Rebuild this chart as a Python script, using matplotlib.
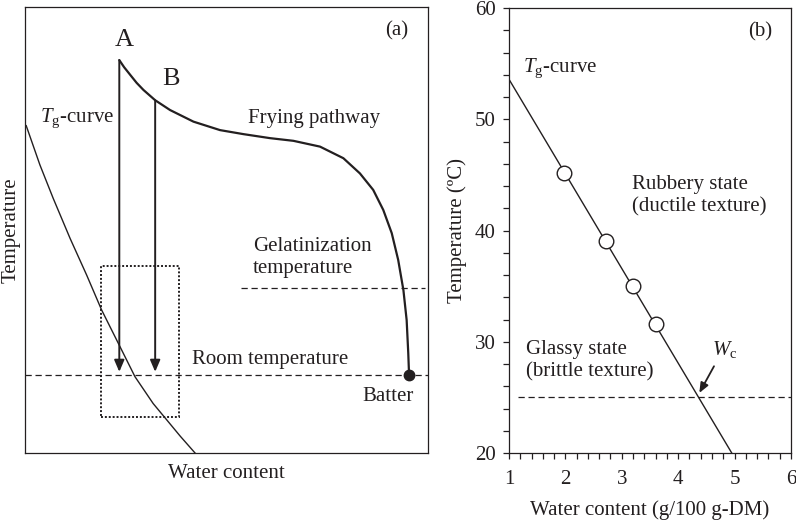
import matplotlib
matplotlib.use("Agg")
import matplotlib.pyplot as plt
from matplotlib.patches import Rectangle
from matplotlib.ticker import MultipleLocator

plt.rcParams['font.family'] = ['Liberation Serif', 'DejaVu Serif']
plt.rcParams['mathtext.fontset'] = 'custom'
plt.rcParams['mathtext.rm'] = 'Liberation Serif'
plt.rcParams['mathtext.it'] = 'Liberation Serif:italic'

INK = '#231f20'
FS = 15

# ---- panel (a): schematic, normalised units 0..100 ----
fry_x = [23.4, 24.6, 26.1, 27.7, 29.4, 32.3, 36.0, 41.8, 48.4, 54.2, 60.8, 66.6,
         73.2, 79.0, 83.1, 86.4, 88.9, 91.0, 92.6, 93.9, 94.7, 95.1, 95.3]
fry_y = [88.1, 86.5, 84.8, 83.0, 81.4, 79.1, 76.9, 74.3, 72.4, 71.5, 70.6, 70.0,
         68.7, 66.1, 62.7, 59.0, 54.5, 49.3, 43.3, 36.5, 29.8, 22.4, 17.5]
tg_a_x = [0.3, 3.7, 7.0, 11.2, 15.3, 19.0, 23.6, 27.3, 31.8, 35.2, 38.5, 42.2]
tg_a_y = [73.4, 64.6, 57.1, 48.1, 39.9, 32.1, 23.8, 17.1, 11.1, 7.4, 3.8, 0.0]
arrow_x = [23.4, 32.3]
arrow_top = [88.1, 79.1]
arrow_tip = 18.2
room_t = 17.5
gel_t = 37.0
gel_x = [53.6, 99.3]
box_x = [18.9, 38.2]
box_y = [8.1, 41.9]
batter = (95.3, 17.5)

# ---- panel (b): measured Tg ----
wc = [1.98, 2.72, 3.20, 3.60]
tg = [45.2, 39.1, 35.0, 31.6]
fit_x = [1.0, 4.95]
fit_y = [53.6, 20.0]
room_b = 25.0
room_b_x = [1.16, 6.0]

fig = plt.figure(figsize=(7.96, 5.28), dpi=100)
axa = fig.add_axes([0.0314, 0.142, 0.5063, 0.8447])
axb = fig.add_axes([0.6394, 0.142, 0.3543, 0.8428])

# panel (a)
axa.set_xlim(0, 100)
axa.set_ylim(0, 100)
axa.set_xticks([])
axa.set_yticks([])
for s in axa.spines.values():
    s.set_color(INK)
    s.set_linewidth(0.9)

axa.plot(fry_x, fry_y, color=INK, lw=1.6, solid_capstyle='round', solid_joinstyle='round')
axa.plot(tg_a_x, tg_a_y, color=INK, lw=1.0, solid_joinstyle='round')
axa.plot(batter[0], batter[1], 'o', color=INK, ms=7.5, zorder=5)
axa.axhline(room_t, color=INK, lw=0.9, ls=(0, (5, 3)))
axa.plot(gel_x, [gel_t, gel_t], color=INK, lw=0.9, ls=(0, (5, 3)))
axa.add_patch(Rectangle((box_x[0], box_y[0]), box_x[1] - box_x[0], box_y[1] - box_y[0],
                        fill=False, ec=INK, lw=1.4, ls=(0, (1, 1))))
for x, top in zip(arrow_x, arrow_top):
    axa.annotate('', xy=(x, arrow_tip), xytext=(x, top),
                 arrowprops=dict(arrowstyle='-|>,head_length=0.7,head_width=0.3',
                                 color=INK, lw=1.4, shrinkA=0, shrinkB=0))

axa.text(24.6, 92.6, 'A', fontsize=19, ha='center', va='center', color=INK)
axa.text(36.2, 83.9, 'B', fontsize=19, ha='center', va='center', color=INK)
axa.text(92.3, 94.6, '(a)', fontsize=FS, ha='center', va='center', color=INK)
axa.text(3.7, 75.1, r'$T_{\rm g}$-curve', fontsize=FS, ha='left', va='center', color=INK)
axa.text(55.3, 74.9, 'Frying pathway', fontsize=FS, ha='left', va='center', color=INK)
axa.text(56.6, 43.8, 'Gelatinization\ntemperature', fontsize=FS, ha='left', va='center',
         color=INK, linespacing=1.2)
axa.text(41.4, 20.9, 'Room temperature', fontsize=FS, ha='left', va='center', color=INK)
axa.text(83.6, 12.6, 'Batter', fontsize=FS, ha='left', va='center', color=INK)
axa.set_xlabel('Water content', fontsize=FS, color=INK, labelpad=8)
axa.set_ylabel('Temperature', fontsize=FS, color=INK, labelpad=3)

# panel (b)
axb.plot(fit_x, fit_y, color=INK, lw=1.0)
axb.plot(wc, tg, 'o', mfc='white', mec=INK, mew=1.0, ms=10.5, zorder=4)
axb.plot(room_b_x, [room_b, room_b], color=INK, lw=0.9, ls=(0, (5, 3)))
axb.set_xlim(1, 6)
axb.set_ylim(20, 60)
axb.xaxis.set_major_locator(MultipleLocator(1))
axb.xaxis.set_minor_locator(MultipleLocator(0.2))
axb.yaxis.set_major_locator(MultipleLocator(10))
axb.yaxis.set_minor_locator(MultipleLocator(2))
axb.tick_params(which='both', direction='out', length=4.5, width=0.9, color=INK,
                labelsize=FS, labelcolor=INK, top=False, right=False)
axb.tick_params(axis='x', which='major', pad=8)
axb.tick_params(axis='y', which='major', pad=5)
for s in axb.spines.values():
    s.set_color(INK)
    s.set_linewidth(0.9)

axb.text(1.25, 54.6, r'$T_{\rm g}$-curve', fontsize=FS, ha='left', va='center', color=INK)
axb.text(5.45, 57.9, '(b)', fontsize=FS, ha='center', va='center', color=INK)
axb.text(3.18, 43.1, 'Rubbery state\n(ductile texture)', fontsize=FS, ha='left',
         va='center', color=INK, linespacing=1.2)
axb.text(1.31, 28.3, 'Glassy state\n(brittle texture)', fontsize=FS, ha='left',
         va='center', color=INK, linespacing=1.2)
axb.text(4.6, 29.3, r'$W_{\rm c}$', fontsize=FS, ha='left', va='center', color=INK)
axb.annotate('', xy=(4.375, 25.4), xytext=(4.635, 27.8),
             arrowprops=dict(arrowstyle='-|>,head_length=0.6,head_width=0.25',
                             color=INK, lw=1.3, shrinkA=0, shrinkB=0))
axb.set_xlabel('Water content (g/100 g-DM)', fontsize=FS, color=INK, labelpad=8)
axb.set_ylabel('Temperature (ºC)', fontsize=FS, color=INK, labelpad=6)

fig.savefig('out.png', dpi=100)
